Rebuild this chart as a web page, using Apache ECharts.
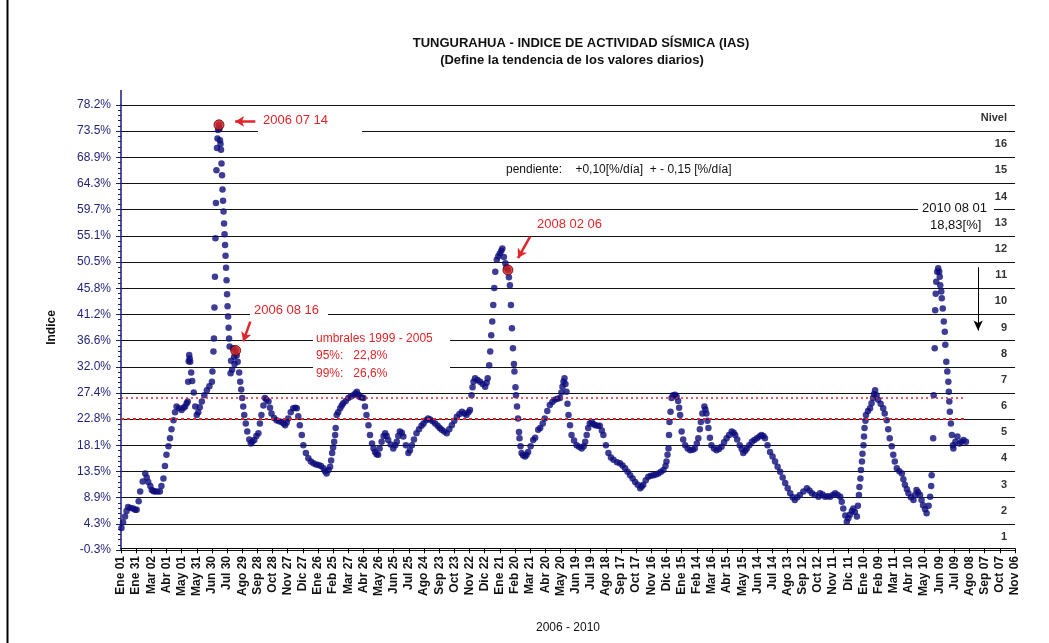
<!DOCTYPE html>
<html lang="es">
<head>
<meta charset="UTF-8">
<title>Tungurahua - IAS</title>
<style>
  html, body { margin: 0; padding: 0; background: #fff; }
  #main { width: 1049px; height: 643px; }
</style>
</head>
<body>
<div id="main"></div>
<script src="https://cdn.jsdelivr.net/npm/echarts/dist/echarts.min.js"></script>
<script>
// dias contados desde 2006-01-01, valor del indice en %
var dias = [1,4,8,11,14,19,24,28,31,35,38,43,48,51,54,58,61,64,67,72,77,80,84,87,90,94,97,100,104,107,110,115,120,124,127,130,132,133,134,135,136,137,139,141,144,147,150,153,156,160,165,170,175,180,
  181,183,184,185,186,187,188,189,190,191,192,194,195,196,197,198,199,200,201,202,203,204,205,206,207,208,209,210,211,212,213,214,215,217,218,220,222,224,225,227,229,231,234,236,238,240,242,244,247,250,254,257,260,264,268,
  272,275,278,282,285,288,292,295,298,303,308,313,318,322,325,328,331,336,341,345,348,351,354,358,361,366,371,376,381,386,391,396,401,404,407,411,414,416,418,420,422,424,425,427,430,434,437,440,445,450,455,460,464,467,470,473,477,480,
  483,486,490,493,497,500,503,506,509,512,516,520,523,526,529,534,539,543,546,549,552,556,559,564,569,572,576,580,585,590,595,599,604,608,612,617,622,627,631,635,640,645,650,655,660,665,670,675,680,684,688,691,694,696,698,701,706,711,716,721,724,726,
  729,731,733,735,737,739,741,744,747,750,753,755,758,761,763,766,768,770,772,774,776,778,779,781,782,784,786,788,789,791,793,796,800,803,806,811,816,820,826,830,835,839,844,849,854,859,864,869,872,874,876,878,880,882,884,886,889,892,897,902,907,912,916,919,922,925,928,932,936,939,944,948,952,955,960,965,970,975,982,988,993,998,
  1003,1008,1013,1018,1023,1028,1031,1034,1039,1044,1049,1054,1059,1064,1069,1074,1078,1080,1082,1084,1085,1086,1088,1090,1093,1097,1100,1103,1105,1107,1110,1113,1117,1122,1127,1132,1136,1140,1143,1146,1148,1151,1155,1157,1159,1161,1163,1166,1169,1174,1179,1184,1189,1194,1199,
  1204,1209,1213,1216,1220,1225,1229,1232,1236,1239,1244,1249,1254,1259,1264,1268,1272,1275,1280,1285,1290,1295,1300,1305,1310,1315,1320,1325,1330,1334,1339,1344,1351,1358,1363,1368,1374,1381,1384,1389,1394,1399,1404,1409,1414,1419,1424,1427,1430,1434,1437,1440,1443,1447,1450,1453,1457,1459,
  1461,1462,1464,1465,1467,1468,1470,1471,1472,1474,1475,1479,1483,1486,1489,1491,1493,1496,1499,1504,1509,1512,1516,1519,1522,1526,1529,1532,1536,1541,1546,1549,1552,1556,1559,1564,1569,1572,1575,1578,1582,1585,1588,1592,1595,1599,1602,1604,1605,
  1608,1609,1611,1612,1613,1614,1616,1618,1620,1621,1622,1624,1625,1627,1629,1631,1632,1634,1636,1638,1639,1640,1641,1643,1645,1647,1648,1652,1656,1660,1664,1668,1673];
var indice = [3.6,4.6,5.6,6.6,7.3,7.1,7.0,6.8,6.8,8.3,10.0,11.8,13.2,12.5,11.7,11.0,10.3,10.1,10.0,10.0,10.0,11.0,12.3,14.5,16.5,18.0,19.4,21.0,22.6,24.0,25.0,24.7,24.4,24.8,25.0,25.6,25.9,29.4,33.0,34.1,33.5,32.9,31.0,29.5,27.5,25.0,23.5,24.0,24.9,25.9,27.0,27.9,28.6,29.4,
  31.2,34.7,37.0,42.5,47.9,54.7,60.9,66.7,70.6,72.3,73.8,74.7,74.0,72.0,71.3,70.3,67.9,65.8,63.3,61.3,59.4,57.3,55.4,53.5,51.6,49.5,47.3,44.8,42.7,40.9,38.9,37.0,35.6,30.9,33.1,31.5,35.3,33.8,32.5,34.9,34.0,32.9,31.0,29.4,28.0,26.5,25.0,23.5,22.0,20.6,19.2,18.5,18.8,19.1,19.8,
  20.3,22.0,23.5,25.2,26.5,26.2,25.9,24.8,23.8,23.0,22.6,22.4,22.3,22.0,21.7,22.2,22.9,24.0,24.7,24.8,24.7,23.3,21.7,20.0,18.2,16.8,15.9,15.3,15.0,14.8,14.7,14.5,14.1,13.6,13.2,13.8,14.4,15.5,16.8,17.8,18.8,20.0,21.2,23.5,24.0,24.7,25.2,25.6,26.0,26.5,26.8,27.0,27.3,27.6,27.1,26.7,26.6,26.5,
  25.0,23.5,21.7,20.0,18.5,17.6,17.0,16.6,16.5,17.6,18.8,19.8,20.3,19.8,19.1,18.3,17.6,18.2,18.8,19.8,20.6,20.4,19.7,18.2,16.8,17.3,18.2,19.2,20.3,21.0,21.6,22.0,22.6,22.9,22.7,22.4,22.0,21.6,21.2,20.9,20.6,20.3,21.0,21.7,22.5,23.2,23.7,24.1,23.8,23.5,24.0,24.4,27.0,28.4,29.4,30.0,29.7,29.4,29.0,28.5,29.2,30.0,
  32.3,34.7,37.6,40.0,42.9,45.9,48.8,50.9,51.5,52.0,52.5,52.9,51.4,50.3,49.6,49.1,47.8,46.4,42.9,38.8,35.3,32.5,31.2,28.4,27.0,25.0,22.9,20.5,19.4,18.0,16.8,16.4,16.2,16.5,17.0,18.0,19.1,19.5,20.9,21.2,22.0,22.9,24.2,25.3,25.8,26.2,26.4,26.5,27.5,28.5,29.4,30.0,29.0,27.6,25.5,23.5,21.7,20.0,19.0,18.2,17.9,17.6,18.0,18.8,20.0,21.2,22.0,22.3,21.9,21.7,21.6,21.6,20.8,20.0,18.2,16.8,16.0,15.6,15.2,15.0,14.6,14.1,
  13.5,12.9,12.3,11.7,11.2,10.6,10.9,11.2,12.0,12.6,12.8,12.9,13.0,13.2,13.5,13.8,14.5,15.3,16.5,17.6,20.0,22.3,24.1,26.5,27.0,27.1,26.8,26.0,24.8,23.5,20.6,19.2,18.2,17.6,17.3,17.4,17.6,18.5,19.4,21.0,22.3,23.8,25.0,24.5,23.8,22.5,21.2,19.5,18.2,17.6,17.3,17.5,17.9,18.7,19.4,
  20.0,20.6,20.4,20.0,19.2,18.2,17.5,16.8,17.2,17.6,18.2,18.8,19.1,19.4,19.7,20.0,19.8,19.4,18.2,17.0,16.2,15.3,14.4,13.5,12.5,11.5,10.6,9.7,9.0,8.5,9.0,9.4,10.0,10.6,10.2,9.7,9.4,9.1,9.7,9.5,9.1,9.2,9.1,9.4,9.7,9.4,9.1,8.2,7.0,5.8,4.7,5.3,5.9,6.6,7.0,6.4,5.6,7.5,
  9.4,10.8,12.3,13.8,15.3,16.7,18.2,19.7,21.2,22.5,23.5,24.2,24.7,25.6,26.5,27.2,27.9,27.0,26.2,25.5,24.7,23.8,22.6,21.0,19.4,18.0,16.5,15.3,14.1,13.6,13.2,12.2,11.2,10.4,9.7,9.0,8.5,9.4,10.3,9.9,9.4,8.5,7.6,6.9,6.2,7.5,9.1,11.0,12.9,
  19.4,27.0,35.3,42.0,44.9,47.0,48.8,49.4,48.8,47.9,46.4,45.3,44.1,42.3,40.0,38.2,35.9,32.9,31.2,29.4,27.6,25.9,24.1,22.0,20.0,18.2,17.6,18.8,19.7,18.5,18.8,19.1,18.8];

// fechas destacadas (2006 07 14, 2006 08 16, 2008 02 06)
var diasClave = [194, 227, 766];
var valoresClave = [74.7, 34.9, 49.1];

// umbrales 1999 - 2005
var umbral95 = 22.8;
var umbral99 = 26.6;

var yTickLabels = ['-0.3%','4.3%','8.9%','13.5%','18.1%','22.8%','27.4%','32.0%','36.6%','41.2%','45.8%','50.5%','55.1%','59.7%','64.3%','68.9%','73.5%','78.2%'];
var niveles = ['1','2','3','4','5','6','7','8','9','10','11','12','13','14','15','16','Nivel'];
var meses = ['Ene','Feb','Mar','Abr','May','Jun','Jul','Ago','Sep','Oct','Nov','Dic'];

function etiquetaFecha(d) {
  var f = new Date(Date.UTC(2006, 0, 1) + d * 86400000);
  var dd = f.getUTCDate();
  return meses[f.getUTCMonth()] + ' ' + (dd < 10 ? '0' + dd : dd);
}

var puntos = dias.map(function (d, i) { return [d, indice[i]]; });
var puntosClave = diasClave.map(function (d, i) { return [d, valoresClave[i]]; });

var FONT = 'Liberation Sans, Arial, sans-serif';
var ROJO = '#e0262a';

var myChart = echarts.init(document.getElementById('main'), null, { renderer: 'canvas' });

var option = {
  animation: false,
  backgroundColor: '#fff',
  title: [{
    text: 'TUNGURAHUA - INDICE DE ACTIVIDAD SÍSMICA (IAS)',
    left: 576, top: 32, textAlign: 'center',
    textStyle: { fontFamily: FONT, fontSize: 13, fontWeight: 'bold', color: '#111' }
  }, {
    text: '(Define la tendencia de los valores diarios)',
    left: 567, top: 49, textAlign: 'center',
    textStyle: { fontFamily: FONT, fontSize: 13, fontWeight: 'bold', color: '#111' }
  }],
  grid: { left: 121, right: 34, top: 105, bottom: 93 },
  xAxis: {
    type: 'value', min: 0, max: 1770, interval: 30,
    name: '2006 - 2010', nameLocation: 'middle', nameGap: 72,
    nameTextStyle: { fontFamily: FONT, fontSize: 12, color: '#111' },
    axisLine: { lineStyle: { color: '#000', width: 1 } },
    axisTick: { length: 5, lineStyle: { color: '#000' } },
    axisLabel: {
      rotate: 90, margin: 6, fontFamily: FONT, fontSize: 12, fontWeight: 'bold', color: '#111',
      formatter: etiquetaFecha
    },
    splitLine: { show: false }
  },
  yAxis: [{
    type: 'value', min: -0.3, max: 78.2, show: false
  }, {
    type: 'value', min: 0, max: 17, interval: 1, position: 'left',
    name: 'Indice', nameLocation: 'middle', nameGap: 63, nameRotate: 90,
    nameTextStyle: { fontFamily: FONT, fontSize: 12, fontWeight: 'bold', color: '#111' },
    axisLine: { show: true, lineStyle: { color: '#1a1a80', width: 1.5 } },
    axisTick: { show: true, length: 5, lineStyle: { color: '#1a1a80' } },
    minorTick: { show: true, splitNumber: 5, length: 3, lineStyle: { color: '#1a1a80' } },
    axisLabel: {
      margin: 10, fontFamily: FONT, fontSize: 12, color: '#1f1f78',
      formatter: function (v) { return yTickLabels[Math.round(v)]; }
    },
    splitLine: { show: true, lineStyle: { color: '#111', width: 1 } }
  }, {
    type: 'category', data: niveles, position: 'right',
    axisLine: { show: false }, axisTick: { show: false },
    axisLabel: {
      inside: true, margin: 8, fontFamily: FONT, fontSize: 11, fontWeight: 'bold', color: '#333'
    },
    splitLine: { show: false }
  }],
  series: [{
    type: 'scatter', yAxisIndex: 0,
    data: puntos,
    symbol: 'circle', symbolSize: 6.5,
    itemStyle: { color: '#0c0c7c' },
    markLine: {
      silent: true, symbol: ['none', 'none'], label: { show: false },
      data: [
        [{ coord: [0, umbral95], lineStyle: { color: ROJO, type: [3, 3], width: 2 } }, { coord: [dias[dias.length - 1], umbral95] }],
        [{ coord: [0, umbral99], lineStyle: { color: ROJO, type: [2, 3], width: 1.5 } }, { coord: [dias[dias.length - 1], umbral99] }],
        [{ coord: [1697, 49.6], symbol: 'none', lineStyle: { color: '#000', type: 'solid', width: 1 } }, { coord: [1697, 38.4], symbol: 'arrow', symbolSize: [7, 10] }],
        [{ coord: [266, 75.3], symbol: 'none', lineStyle: { color: ROJO, type: 'solid', width: 2.5 } }, { coord: [226, 75.3], symbol: 'arrow', symbolSize: [8, 9] }],
        [{ coord: [256, 40.0], symbol: 'none', lineStyle: { color: ROJO, type: 'solid', width: 2.5 } }, { coord: [242, 36.5], symbol: 'arrow', symbolSize: [8, 9] }],
        [{ coord: [810, 55.0], symbol: 'none', lineStyle: { color: ROJO, type: 'solid', width: 2.5 } }, { coord: [786, 51.2], symbol: 'arrow', symbolSize: [8, 9] }]
      ]
    }
  }, {
    type: 'scatter', yAxisIndex: 0,
    data: puntosClave,
    symbol: 'circle', symbolSize: 10, z: 3,
    itemStyle: { color: '#d8201e', borderColor: '#5a0000', borderWidth: 1 }
  }],
  graphic: [
    { type: 'line', z: 1, shape: { x1: 7.5, y1: 0, x2: 7.5, y2: 643 }, style: { stroke: '#000', lineWidth: 2 } },
    { type: 'line', z: 1, shape: { x1: 121, y1: 90, x2: 121, y2: 105 }, style: { stroke: '#1a1a80', lineWidth: 1.5 } },
    { type: 'rect', z: 1, shape: { x: 258, y: 113, width: 104, height: 22 }, style: { fill: '#fff' } },
    { type: 'text', z: 5, left: 263, top: 114, style: { text: '2006 07 14', font: '13px ' + FONT, fill: ROJO } },
    { type: 'rect', z: 1, shape: { x: 250, y: 303, width: 78, height: 20 }, style: { fill: '#fff' } },
    { type: 'text', z: 5, left: 254, top: 304, style: { text: '2006 08 16', font: '13px ' + FONT, fill: ROJO } },
    { type: 'text', z: 5, left: 537, top: 218, style: { text: '2008 02 06', font: '13px ' + FONT, fill: ROJO } },
    { type: 'rect', z: 1, shape: { x: 313, y: 331, width: 137, height: 52 }, style: { fill: '#fff' } },
    { type: 'text', z: 5, left: 316, top: 333, style: { text: 'umbrales 1999 - 2005', font: '12px ' + FONT, fill: ROJO } },
    { type: 'text', z: 5, left: 316, top: 350, style: { text: '95%:   22,8%', font: '12px ' + FONT, fill: ROJO } },
    { type: 'text', z: 5, left: 316, top: 368, style: { text: '99%:   26,6%', font: '12px ' + FONT, fill: ROJO } },
    { type: 'text', z: 5, left: 506, top: 164, style: { text: 'pendiente:    +0,10[%/día]  + - 0,15 [%/día]', font: '12px ' + FONT, fill: '#111' } },
    { type: 'rect', z: 1, shape: { x: 918, y: 201, width: 76, height: 33 }, style: { fill: '#fff' } },
    { type: 'text', z: 5, left: 922, top: 202, style: { text: '2010 08 01', font: '13px ' + FONT, fill: '#111' } },
    { type: 'text', z: 5, left: 930, top: 219, style: { text: '18,83[%]', font: '13px ' + FONT, fill: '#111' } }
  ]
};

myChart.setOption(option);
</script>
</body>
</html>
